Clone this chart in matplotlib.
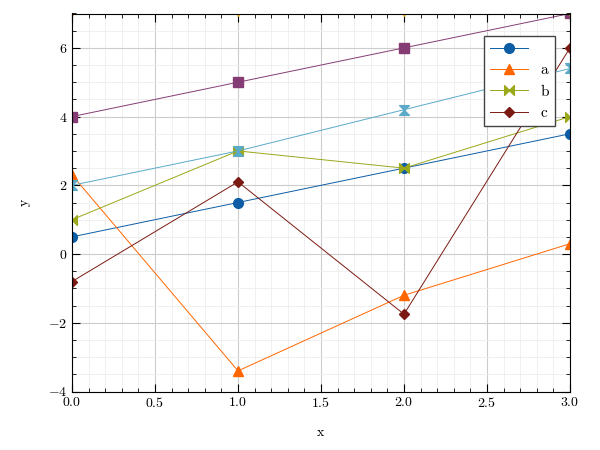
import numpy as np
import matplotlib.pyplot as plt
from matplotlib.path import Path

plt.rcParams['font.family'] = 'serif'
plt.rcParams['font.serif'] = ['cmr10']
plt.rcParams['mathtext.fontset'] = 'cm'
plt.rcParams['axes.formatter.use_mathtext'] = True

x = [0, 1, 2, 3]
y_blue = [0.5, 1.5, 2.5, 3.5]
y_a = [2.3, -3.4, -1.2, 0.3]
y_b = [1.0, 3.0, 2.5, 4.0]
y_c = [-0.8, 2.1, -1.75, 6.0]
y_sky = [2.0, 3.0, 4.2, 5.4]
y_purple = [4.0, 5.0, 6.0, 7.0]
y_yellow = [7.0, 7.0, 7.0, 7.0]

# bowtie markers
bow_h = Path([(-1, 1), (0, 0), (-1, -1), (-1, 1), (1, 1), (0, 0), (1, -1), (1, 1)],
             [1, 2, 2, 79, 1, 2, 2, 79])
bow_v = Path([(-1, 1), (0, 0), (1, 1), (-1, 1), (-1, -1), (0, 0), (1, -1), (-1, -1)],
             [1, 2, 2, 79, 1, 2, 2, 79])

fig, ax = plt.subplots(figsize=(6, 4.5), dpi=100)
lw = 0.7
ax.plot(x, y_blue, color='#0C5DA5', marker='o', ms=7, lw=lw, label=' ')
ax.plot(x, y_a, color='#FF6600', marker='^', ms=7, lw=lw, label='a')
ax.plot(x, y_b, color='#9AA81A', marker=bow_h, ms=7, lw=lw, label='b')
ax.plot(x, y_c, color='#7A1A12', marker='D', ms=5, lw=lw, label='c')
ax.plot(x, y_sky, color='#5AAAC8', marker=bow_v, ms=7, lw=lw)
ax.plot(x, y_purple, color='#853C74', marker='s', ms=7, lw=lw)
ax.plot(x, y_yellow, color='#F0B020', marker='v', ms=5, lw=lw, clip_on=True)

ax.set_xlim(0, 3)
ax.set_ylim(-4, 7)
ax.set_xlabel('x', labelpad=12)
ax.set_ylabel('y', labelpad=12)
ax.minorticks_on()
ax.tick_params(which='both', direction='in', top=True, right=True)
ax.tick_params(which='major', length=6)
ax.tick_params(which='minor', length=3)
ax.grid(which='major', color='#cccccc', lw=0.8)
ax.grid(which='minor', color='#eeeeee', lw=0.6)
leg = ax.legend(loc='upper right', bbox_to_anchor=(0.985, 0.96), fancybox=False,
                edgecolor='#444444', framealpha=1, fontsize=11, handlelength=2.5)
leg.get_frame().set_linewidth(1.0)
fig.subplots_adjust(left=0.12, right=0.95, top=0.97, bottom=0.13)
fig.savefig('out.png')
